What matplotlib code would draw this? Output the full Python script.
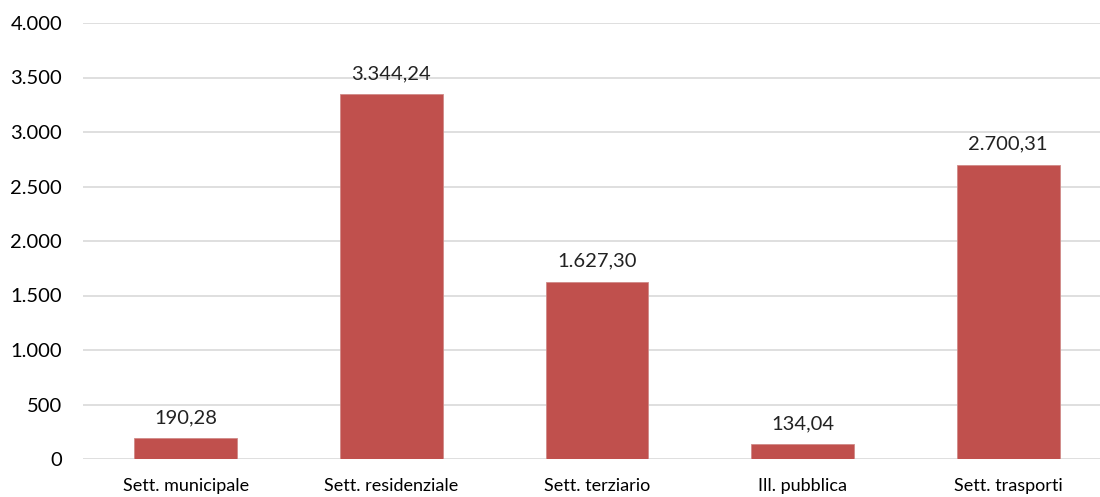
import numpy as np
import matplotlib.pyplot as plt
from matplotlib.ticker import FuncFormatter

plt.rcParams['font.family'] = ['Lato', 'DejaVu Sans']

categories = ['Sett. municipale', 'Sett. residenziale', 'Sett. terziario', 'Ill. pubblica', 'Sett. trasporti']
values = [190.28, 3344.24, 1627.30, 134.04, 2700.31]
yticks = [0, 500, 1000, 1500, 2000, 2500, 3000, 3500, 4000]


def it_fmt(v, dec=0):
    s = f"{v:,.{dec}f}"
    return s.replace(',', 'X').replace('.', ',').replace('X', '.')


fig = plt.figure(figsize=(11, 4.97), dpi=100)
ax = fig.add_axes([83/1100, 38/497, 1 - 83/1100, 436/497])

x = np.arange(len(categories))
ax.bar(x, values, width=0.5, color='#C0504D', edgecolor='#D08A88', linewidth=0.6, zorder=3)

for xi, v in zip(x, values):
    ax.text(xi, v + 110, it_fmt(v, 2), ha='center', va='bottom', fontsize=14.5, color='#222222')

ax.set_xlim(-0.5, 4.447)
ax.set_ylim(0, 4000)
ax.set_yticks(yticks)
ax.yaxis.set_major_formatter(FuncFormatter(lambda v, p: it_fmt(v)))
ax.set_xticks(x)
ax.set_xticklabels(categories, fontsize=13)
ax.tick_params(axis='y', labelsize=14.5, length=0, pad=15)
ax.tick_params(axis='x', length=0, pad=14)
ax.grid(axis='y', color='#D9D9D9', linewidth=1.2, zorder=0)
for s in ax.spines.values():
    s.set_visible(False)

fig.savefig('out.png', dpi=100)
